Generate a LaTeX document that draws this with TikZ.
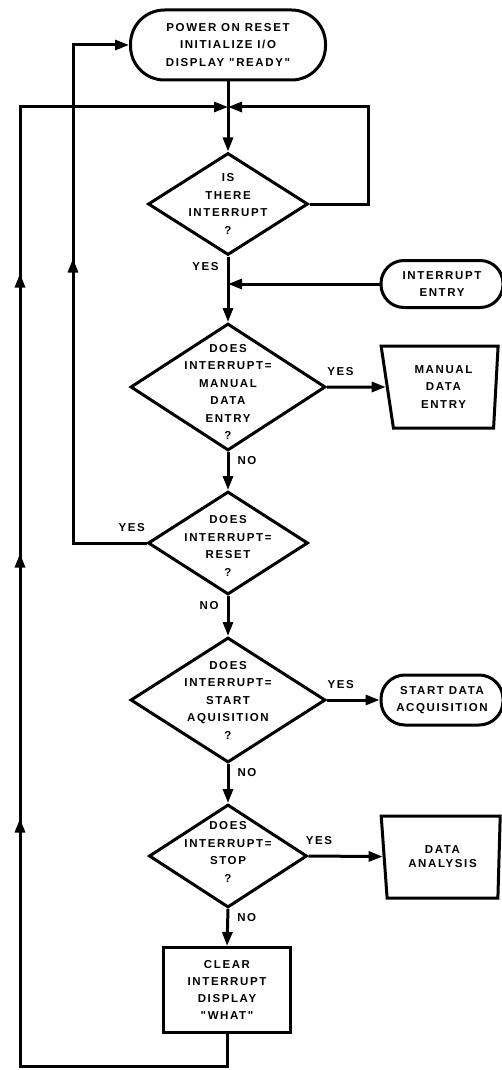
\documentclass[tikz,border=0pt]{standalone}
\usepackage{fontspec}
\newfontfamily\flowfont{Liberation Sans}[LetterSpace=14]
\usetikzlibrary{arrows.meta,shapes.geometric,decorations.markings}
\begin{document}
\begin{tikzpicture}[x=1pt,y=-1pt,
  every node/.style={font=\flowfont\bfseries\fontsize{11.5}{17.5}\selectfont, align=center},
  ln/.style={line width=3pt},
  tip/.tip={Triangle[length=14pt,width=10pt]},
  arr/.style={ln,-tip},
  dia/.style={draw,ln,diamond,inner sep=0pt},
  term/.style={draw,ln,rectangle,inner sep=0pt},
  proc/.style={draw,ln,rectangle,inner sep=0pt},
  man/.style={draw,ln,trapezium,shape border rotate=180,trapezium stretches body,inner sep=0pt},
  lbl/.style={inner sep=8pt},
  lblup/.style={inner sep=10pt},
  midarrow/.style={postaction={decorate,decoration={markings,mark=at position #1 with {\arrow{tip}}}}}
]
\useasboundingbox (0,0) rectangle (502,1070);

% nodes
\node[term, minimum width=195pt, minimum height=70pt, rounded corners=34pt] (t1) at (228,45) {POWER ON RESET\\INITIALIZE I/O\\DISPLAY "READY"};
\coordinate (j) at (228,107);
\coordinate (rx) at (368,107);
\coordinate (lt) at (20,107);
\coordinate (lb) at (20,1066);
\coordinate (rl) at (73,45);

\node[dia, minimum width=160pt, minimum height=102pt] (d1) at (228,204) {};
\node (d1t) at (d1.center) {IS\\THERE\\INTERRUPT\\?};

\node[term, minimum width=122pt, minimum height=47pt, rounded corners=23pt] (ie) at (442,284) {INTERRUPT\\ENTRY};

\node[dia, minimum width=195pt, minimum height=127pt] (d2) at (228,387) {};
\node (d2t) at ([yshift=-5pt]d2.center) {DOES\\INTERRUPT=\\MANUAL\\DATA\\ENTRY\\?};

\node[man, trapezium left angle=84, trapezium right angle=74, minimum width=117pt, minimum height=82pt] (tr1) at (443.5,387) {MANUAL\\DATA\\ENTRY};

\node[dia, minimum width=160pt, minimum height=103pt] (d3) at (228,543) {};
\node (d3t) at ([yshift=-3pt]d3.center) {DOES\\INTERRUPT=\\RESET\\?};

\node[dia, minimum width=195pt, minimum height=125pt] (d4) at (228,700) {};
\node (d4t) at (d4.center) {DOES\\INTERRUPT=\\START\\AQUISITION\\?};

\node[term, minimum width=122pt, minimum height=50pt, rounded corners=24pt] (sda) at (442,700) {START DATA\\ACQUISITION};

\node[dia, minimum width=158pt, minimum height=103pt] (d5) at (228,856) {};
\node (d5t) at ([yshift=4pt]d5.center) {DOES\\INTERRUPT=\\STOP\\?};

\node[man, trapezium left angle=84, trapezium right angle=75, minimum width=119pt, minimum height=82pt, font=\flowfont\bfseries\fontsize{11.5}{14}\selectfont] (tr2) at (442.5,857) {DATA\\ANALYSIS};

\node[proc, minimum width=127pt, minimum height=85pt, font=\flowfont\bfseries\fontsize{11.5}{17}\selectfont] (rect) at (227,990) {CLEAR\\INTERRUPT\\DISPLAY\\"WHAT"};

% connectors
\draw[arr] (t1) -- (d1);
\draw[arr, midarrow=1031.5pt, midarrow=751.5pt, midarrow=486.5pt] (rect.south) |- (lb) -- (lt) -- (j);
\draw[arr] (d1.east) -| (rx) -- (j);
\draw[arr] (d1.south) -- node[lbl,left,pos=0.15]{YES} (d2.north);
\draw[arr] (ie.west) -- (ie.west -| d1.south);
\draw[arr] (d2.east) -- node[lblup,above,pos=0.23]{YES} (tr1);
\draw[arr] (d2.south) -- node[lbl,right,pos=0.23]{NO} (d3.north);
\draw[arr, midarrow=358pt] (d3.west) -| node[lblup,above,pos=0.1]{YES} (rl) -- (t1.west);
\draw[arr] (d3.south) -- node[lbl,left,pos=0.24]{NO} (d4.north);
\draw[arr] (d4.east) -- node[lblup,above,pos=0.26]{YES} (sda);
\draw[arr] (d4.south) -- node[lbl,right,pos=0.23]{NO} (d5.north);
\draw[arr] (d5.east) -- node[lblup,above,pos=0.14]{YES} (tr2);
\draw[arr] (d5.south) -- node[lbl,right,pos=0.24]{NO} (rect.north);
\end{tikzpicture}
\end{document}
